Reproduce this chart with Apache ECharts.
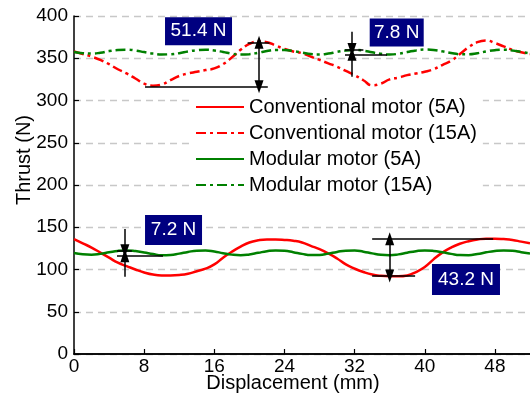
<!DOCTYPE html>
<html>
<head>
<meta charset="utf-8">
<script src="https://cdn.jsdelivr.net/npm/echarts@6/dist/echarts.min.js"></script>
<style>
html, body { margin: 0; padding: 0; background: #fff; }
#myChart { width: 530px; height: 394px; }
</style>
</head>
<body>
<div id="myChart"></div>
<script>
var myChart;

// displacement (mm)
var disp = [0, 1, 2, 3, 4, 5, 6, 7, 8, 9, 10, 11, 12, 13, 14, 15, 16, 17, 18, 19, 20,
    21, 22, 23, 24, 25, 26, 27, 28, 29, 30, 31, 32, 33, 34, 35, 36, 37, 38, 39, 40,
    41, 42, 43, 44, 45, 46, 47, 48, 49, 50, 51, 52];

var conv5 = [136, 131, 126, 120, 114, 108, 104, 100, 96.5, 94, 93, 93, 93.5, 95, 98, 101, 106,
    114, 121, 127, 132, 134.5, 135.5, 135.5, 135, 134, 132, 128, 124, 119, 113, 106, 101,
    97, 94, 92.5, 92, 92, 93, 97, 103, 112, 120, 126, 130.5, 133.5, 135.5, 136.5, 136.5,
    136, 135, 133, 131];

var conv15 = [358, 355, 352, 348, 343, 337, 332, 326, 320, 317.5, 319, 324, 329, 332, 334, 336,
    338, 343, 351, 360, 367, 370, 369, 365, 361, 358, 356, 352, 348, 344, 340, 335, 330,
    324, 318, 320, 325, 327, 330, 332, 334, 337, 342, 347, 355, 363, 369, 371, 368, 364,
    360, 357, 355];

var mod5 = [119.5, 118, 117.5, 118.5, 120.3, 122, 122.6, 121.8, 120.2, 118.3, 117, 117.2, 118.8,
    120.8, 122.3, 122.6, 121.3, 119.3, 117.6, 116.9, 117.8, 119.7, 121.6, 122.6, 122.2, 120.5,
    118.5, 117.1, 117.2, 118.8, 120.8, 122.3, 122.5, 121.1, 119.1, 117.4, 116.9, 117.9, 119.9,
    121.7, 122.6, 122, 120.4, 118.5, 117.1, 117, 118.3, 120.3, 121.9, 122.6, 122.1, 120.5, 118.8];

var mod15 = [357.5, 356, 355.5, 356.5, 358.5, 359.8, 360.2, 359.2, 357.3, 355.5, 354.5, 354.8, 356,
    358, 359.5, 360, 359.2, 357.5, 355.5, 354.3, 354.8, 356.5, 358.5, 359.8, 359.8, 358.5,
    356.8, 355, 354.5, 355.5, 357.5, 359.2, 359.8, 359, 357, 355.2, 354.5, 355.3, 357.3,
    359.3, 360.3, 359.8, 358.2, 356.2, 354.8, 354.7, 356, 358, 359.6, 360.2, 359.3, 357.5, 355.8];

var seriesNames = ['Conventional motor (5A)', 'Conventional motor (15A)', 'Modular motor (5A)', 'Modular motor (15A)'];
var yTicks = [0, 50, 100, 150, 200, 250, 300, 350, 400];
var xTitle = 'Displacement (mm)';
var yTitle = 'Thrust (N)';

// annotations: [label, x, y]
var boxes = [['51.4 N', 14.2, 382], ['7.8 N', 36.8, 380.5], ['7.2 N', 11.35, 146.7], ['43.2 N', 44.7, 88.2]];
var boxSizes = [[67, 28], [54, 28], [57, 30], [68, 31]];
// reference lines: [x1, y1, x2, y2]
var refLines = [
    [19.8, 368.9, 22.3, 368.9], [8.1, 316.3, 22.1, 316.3],
    [30.9, 360.5, 33.0, 360.5], [30.9, 354.7, 35.7, 354.7],
    [4.9, 122.2, 6.6, 122.2], [4.9, 116.3, 10.15, 116.3],
    [34, 136.4, 47.8, 136.4], [34, 92.3, 38.9, 92.3]
];
// double arrows [x, y1, y2]
var dblArrows = [[21.1, 316.3, 368.9], [36.0, 92.3, 136.4]];
// single arrows pointing to end: [x, yFrom, yTo]
var oneArrows = [[31.7, 381.4, 360.5], [31.7, 328.2, 354.7], [5.8, 147.9, 122.2], [5.8, 91.5, 116.3]];

function pairs(ys) {
    return disp.map(function (x, i) { return [x, ys[i]]; });
}

function buildMarks() {
    var lines = [];
    refLines.forEach(function (l) {
        lines.push([{ coord: [l[0], l[1]], symbol: 'none' }, { coord: [l[2], l[3]], symbol: 'none' }]);
    });
    dblArrows.forEach(function (a) {
        lines.push([{ coord: [a[0], a[1]], symbol: 'triangle' }, { coord: [a[0], a[2]], symbol: 'triangle' }]);
    });
    oneArrows.forEach(function (a) {
        lines.push([{ coord: [a[0], a[1]], symbol: 'none' }, { coord: [a[0], a[2]], symbol: 'triangle' }]);
    });
    return lines;
}

var font = 'Liberation Sans, Arial, Helvetica, sans-serif';

function draw() {
    if (myChart != null && myChart != "" && myChart != undefined) {
        myChart.dispose();
    }
    myChart = echarts.init(document.querySelector("#myChart"));

    var colors = ['#ff0000', '#ff0000', '#008000', '#008000'];
    var dashDot = [10, 4, 3, 4];
    var all = [conv5, conv15, mod5, mod15];

    var series = all.map(function (ys, i) {
        return {
            name: seriesNames[i],
            type: 'line',
            data: pairs(ys),
            smooth: true,
            showSymbol: false,
            symbol: 'none',
            color: colors[i],
            lineStyle: { width: 2.5, color: colors[i], type: (i % 2 == 1) ? dashDot : 'solid' },
            z: 3
        };
    });

    // annotation layer on an extra series with no data
    series.push({
        name: 'notes',
        type: 'line',
        data: [],
        silent: true,
        z: 5,
        markLine: {
            silent: true,
            animation: false,
            symbolSize: [9, 13],
            label: { show: false },
            lineStyle: { color: '#000', width: 1.5, type: 'solid' },
            itemStyle: { color: '#000' },
            emphasis: { disabled: true },
            data: buildMarks()
        },
        markPoint: {
            silent: true,
            animation: false,
            symbol: 'rect',
            itemStyle: { color: '#000080' },
            label: { show: true, position: 'inside', color: '#fff', fontSize: 19, fontFamily: font },
            data: boxes.map(function (b, i) {
                return { coord: [b[1], b[2]], value: b[0], symbolSize: boxSizes[i], label: { formatter: b[0] } };
            })
        }
    });

    var option = {
        animation: false,
        textStyle: { fontFamily: font },
        grid: { left: 74, top: 16, right: 0, bottom: 40, containLabel: false, outerBoundsMode: 'none' },
        graphic: [{
            type: 'text',
            x: 293,
            y: 383,
            style: { text: xTitle, fill: '#000', font: '20px ' + font, align: 'center', verticalAlign: 'middle' }
        }, {
            type: 'text',
            x: 24.5,
            y: 160,
            rotation: Math.PI / 2,
            style: { text: yTitle, fill: '#000', font: '20px ' + font, align: 'center', verticalAlign: 'middle' }
        }],
        legend: {
            data: seriesNames,
            orient: 'vertical',
            left: 189,
            top: 92,
            padding: [5, 6],
            itemWidth: 48,
            itemHeight: 14,
            itemGap: 6,
            backgroundColor: '#fff',
            itemStyle: { opacity: 0 },
            textStyle: { fontSize: 20, color: '#000', fontFamily: font },
            selectedMode: false
        },
        xAxis: [{
            type: 'value',
            min: 0,
            max: 52,
            interval: 8,
            axisLine: { show: true, onZero: false, lineStyle: { color: '#000', width: 1.5 } },
            axisTick: { show: true, inside: true, length: 5, lineStyle: { color: '#000', width: 1.2 } },
            axisLabel: { fontSize: 19, color: '#000', margin: 3, showMaxLabel: false, fontFamily: font },
            splitLine: { show: false }
        }, {
            type: 'value',
            position: 'top',
            min: 0,
            max: 52,
            axisLine: { show: true, lineStyle: { color: '#000', width: 1.5 } },
            axisTick: { show: false },
            axisLabel: { show: false },
            splitLine: { show: false }
        }],
        yAxis: {
            type: 'value',
            min: yTicks[0],
            max: yTicks[yTicks.length - 1],
            interval: 50,
            axisLine: { show: true, lineStyle: { color: '#000', width: 1.5 } },
            axisTick: { show: true, inside: true, length: 5, lineStyle: { color: '#000', width: 1.2 } },
            axisLabel: { fontSize: 19, color: '#000', margin: 6, fontFamily: font },
            splitLine: { show: true, lineStyle: { color: '#c8c8c8', width: 1.3, type: [7, 5] } }
        },
        series: series
    };
    myChart.setOption(option);
}

draw();
</script>
</body>
</html>
